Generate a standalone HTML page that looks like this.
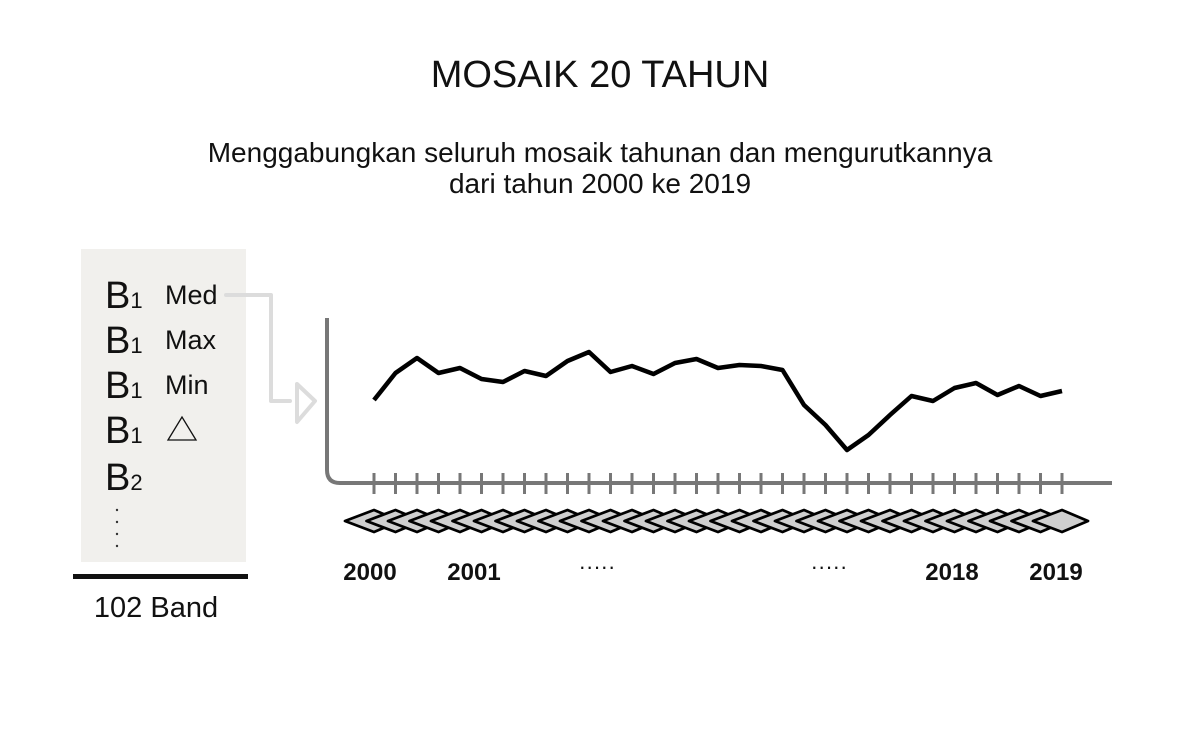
<!DOCTYPE html>
<html><head><meta charset="utf-8"><style>
html,body{margin:0;padding:0;background:#fff;}
body{width:1200px;height:724px;overflow:hidden;font-family:"Liberation Sans",sans-serif;}
</style></head><body>
<svg width="1200" height="724" viewBox="0 0 1200 724" style="font-family:'Liberation Sans',sans-serif">
<text x="600" y="87" text-anchor="middle" font-size="38" fill="#111">MOSAIK 20 TAHUN</text>
<text x="600" y="162" text-anchor="middle" font-size="28" fill="#111">Menggabungkan seluruh mosaik tahunan dan mengurutkannya</text>
<text x="600" y="193" text-anchor="middle" font-size="28" fill="#111">dari tahun 2000 ke 2019</text>

<g>
<rect x="81" y="249" width="165" height="313" fill="#f1f0ed"/>
<g font-size="38" fill="#111" font-weight="300">
<text x="105" y="308">B<tspan font-size="22">1</tspan></text>
<text x="105" y="353">B<tspan font-size="22">1</tspan></text>
<text x="105" y="398">B<tspan font-size="22">1</tspan></text>
<text x="105" y="443">B<tspan font-size="22">1</tspan></text>
<text x="105" y="490">B<tspan font-size="22">2</tspan></text>
</g>
<g font-size="27" fill="#111">
<text x="165" y="304">Med</text>
<text x="165" y="349">Max</text>
<text x="165" y="394">Min</text>
<path d="M168 440 L182 417 L196 440 Z" fill="none" stroke="#111" stroke-width="1.3"/>
</g>
<g fill="#333">
<circle cx="117" cy="510" r="1.2"/><circle cx="117" cy="522" r="1.2"/><circle cx="117" cy="534" r="1.2"/><circle cx="117" cy="546" r="1.2"/>
</g>
<rect x="73" y="574" width="175" height="5" fill="#111"/>
<text x="156" y="617" text-anchor="middle" font-size="29" fill="#111">102 Band</text>
</g>

<g fill="none" stroke="#dcdcdc" stroke-width="4" stroke-linecap="round" stroke-linejoin="round">
<path d="M226 295 L271 295 L271 401 L290 401"/>
<path d="M297 384 L315 401 L297 422 Z"/>
</g>

<path d="M327 318 L327 470 Q327 483 340 483 L1112 483" fill="none" stroke="#777" stroke-width="4"/>
<g id="ticks"></g>
<g id="diamonds"></g>
<path id="line" fill="none" stroke="#000" stroke-width="4.5" stroke-linejoin="round"/>
<g font-size="24" font-weight="bold" fill="#111" text-anchor="middle">
<text x="370" y="580">2000</text>
<text x="474" y="580">2001</text>
<text x="597" y="574" font-weight="normal" font-size="22">·····</text>
<text x="829" y="574" font-weight="normal" font-size="22">·····</text>
<text x="952" y="580">2018</text>
<text x="1056" y="580">2019</text>
</g>
</svg>
<script>
const values = [0.415,0.55,0.625,0.55,0.575,0.52,0.505,0.56,0.535,0.61,0.655,0.555,0.585,0.545,0.6,0.62,0.575,0.59,0.585,0.565,0.39,0.29,0.165,0.24,0.34,0.435,0.41,0.475,0.5,0.44,0.485,0.435,0.46];
const ns='http://www.w3.org/2000/svg';
const n=values.length;
const xS=i=>374+i*(1062-374)/(n-1);
const yS=v=>483-v*200;
const ticks=document.getElementById('ticks'), dia=document.getElementById('diamonds');
let d='';
for(let i=0;i<n;i++){
  const x=xS(i);
  const t=document.createElementNS(ns,'line');
  
  
  t.setAttribute('x1',x);t.setAttribute('x2',x);t.setAttribute('y1',473);t.setAttribute('y2',494);
  t.setAttribute('stroke','#777');t.setAttribute('stroke-width','3');
  ticks.appendChild(t);
  const p=document.createElementNS(ns,'path');
  
  
  p.setAttribute('d',`M${x-29} 521 L${x} 510 L${x+26} 521 L${x} 532 Z`);
  p.setAttribute('fill','#cfcfcf');p.setAttribute('stroke','#000');p.setAttribute('stroke-width','2.8');p.setAttribute('stroke-linejoin','round');
  dia.appendChild(p);
  d+=(i?'L':'M')+x.toFixed(1)+' '+yS(values[i]).toFixed(1)+' ';
}
document.getElementById('line').setAttribute('d',d);
</script>
</body></html>
